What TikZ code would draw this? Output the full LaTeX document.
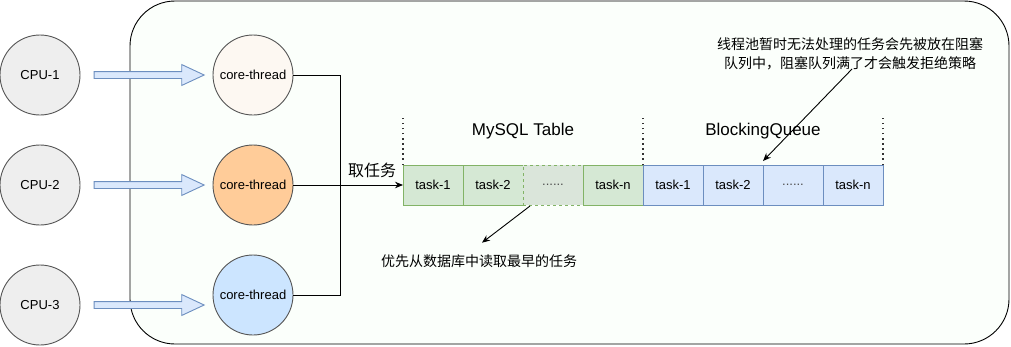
\documentclass[tikz,border=0pt]{standalone}
\usepackage{fontspec}
\setmainfont{Liberation Sans}
\newfontfamily\cjk{Noto Sans CJK SC}
\usepackage{tikz}
\usetikzlibrary{
    arrows.meta,
    calc,
    positioning,
    shapes.arrows
}
\definecolor{cpugray}{HTML}{EEEEEE}
\definecolor{ringgray}{HTML}{555555}
\definecolor{threadcream}{HTML}{FDF8F2}
\definecolor{threadorange}{HTML}{FFCC99}
\definecolor{threadblue}{HTML}{CCE5FF}
\definecolor{queueblue}{HTML}{DAE8FC}
\definecolor{queueline}{HTML}{6C8EBF}
\definecolor{tablegreen}{HTML}{D5E8D4}
\definecolor{tableline}{HTML}{82B366}
\definecolor{tablegap}{HTML}{DAE5DA}
\definecolor{poolfill}{HTML}{FBFFFB}
\tikzset
{
  cpu/.style={circle,draw=ringgray,fill=cpugray,minimum size=80pt,inner sep=0pt,font=\fontsize{13}{15}\selectfont},
  thread/.style={cpu,fill=#1},
  feed/.style={single arrow,draw=queueline,fill=queueblue,minimum height=110pt,inner sep=0pt,inner ysep=3pt,single arrow head extend=7pt,single arrow tip angle=50},
  tablebox/.style={rectangle,draw=tableline,fill=tablegreen,minimum width=60pt,minimum height=40pt,inner sep=0pt,outer sep=0pt,font=\fontsize{13}{15}\selectfont},
  queuebox/.style={tablebox,draw=queueline,fill=queueblue},
  guide/.style={draw=black!80,line width=1.5pt,dash pattern=on 1.5pt off 3.6pt},
  link/.style={draw=black,-{Stealth[length=8pt,width=6.5pt]}},
  note/.style={align=center,font=\cjk\fontsize{14}{19}\selectfont}
}
\begin{document}
\begin{tikzpicture}[x=1pt,y=-1pt,line width=0.9pt]
        \useasboundingbox (0,0) rectangle (1011,346);

        % Draw thread pool frame
        \draw[fill=poolfill,rounded corners=45pt] (130,1) rectangle (1009,344);

        % Draw CPUs and core threads
        \node[cpu] (cpu1) at (40,75) {CPU-1};
        \node[cpu] (cpu2) at (40,185) {CPU-2};
        \node[cpu] (cpu3) at (40,305) {CPU-3};
        \node[thread=threadcream] (thr1) at (253,75) {core-thread};
        \node[thread=threadorange] (thr2) at (253,185) {core-thread};
        \node[thread=threadblue] (thr3) at (253,295) {core-thread};

        % Block arrows from CPU to thread
        \node[feed] (feed1) at ($(cpu1.east)+(65,0)$) {};
        \node[feed] (feed2) at ($(cpu2.east)+(65,0)$) {};
        \node[feed] (feed3) at ($(cpu3.east)+(65,0)$) {};

        % MySQL table tasks
        \node[tablebox] (m1) at (433,185) {task-1};
        \node[tablebox,right=0pt of m1] (m2) {task-2};
        \node[tablebox,right=0pt of m2,dashed,fill=tablegap] (m3) {\textcolor{black!70}{......}};
        \node[tablebox,right=0pt of m3] (m4) {task-n};

        % Blocking queue tasks
        \node[queuebox,right=0pt of m4] (q1) {task-1};
        \node[queuebox,right=0pt of q1] (q2) {task-2};
        \node[queuebox,right=0pt of q2] (q3) {\textcolor{black!70}{......}};
        \node[queuebox,right=0pt of q3] (q4) {task-n};

        % Dotted guides and titles
        \coordinate (g1) at ($(m1.north west)+(0,-50)$);
        \coordinate (g2) at ($(q1.north west)+(0,-50)$);
        \coordinate (g3) at ($(q4.north east)+(0,-50)$);
        \draw[guide] (m1.north west) -- (g1);
        \draw[guide] (q1.north west) -- (g2);
        \draw[guide] (q4.north east) -- (g3);
        \node[font=\fontsize{17}{19}\selectfont] (mysql) at ($(m2.north east)+(0,-34)$) {MySQL Table};
        \node[font=\fontsize{17}{19}\selectfont] (bq) at ($(q2.north east)+(0,-34)$) {BlockingQueue};

        % Threads take tasks
        \coordinate (bus) at (340,0);
        \draw (thr1.east) -| (bus |- thr3.east) -- (thr3.east);
        \draw[link] (thr2) -- (m1);
        \node[font=\cjk\fontsize{16}{18}\selectfont] (take) at (372,170) {取任务};

        % Notes
        \node[note] (noteq) at (850,54) {线程池暂时无法处理的任务会先被放在阻塞\\队列中，阻塞队列满了才会触发拒绝策略};
        \coordinate (qtip) at ($(q2.north east)+(0,-4)$);
        \draw[link] (852,69) -- (qtip);
        \node[note] (notem) at (479,261) {优先从数据库中读取最早的任务};
        \coordinate (mtip) at ($(notem.north)+(3,-8)$);
        \draw[link] ($(m3.south west)+(7,1)$) -- (mtip);
    \end{tikzpicture}
\end{document}
